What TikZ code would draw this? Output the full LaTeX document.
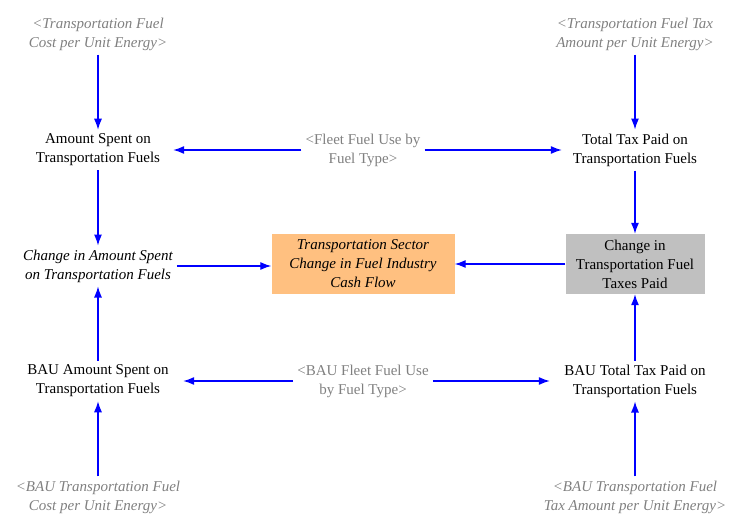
\documentclass[tikz,border=0pt]{standalone}
\usepackage{fontspec}
\setmainfont{Liberation Serif}
\usepackage{tikz}
\usetikzlibrary{arrows.meta,positioning}
\definecolor{link}{HTML}{0000FF}
\definecolor{shadow}{HTML}{808080}
\definecolor{cashbg}{HTML}{FFC080}
\definecolor{taxbg}{HTML}{C0C0C0}

\begin{document}
\begin{tikzpicture}[x=1pt,y=-1pt,on grid,
  var/.style={align=center,inner sep=4pt,font=\fontsize{15}{19}\selectfont},
  ghost/.style={var,text=shadow,font=\fontsize{15}{19}\selectfont\itshape},
  grey/.style={var,text=shadow},
  aux/.style={var,font=\fontsize{15}{19}\selectfont\itshape},
  flowbox/.style={minimum height=60pt,inner sep=0pt},
  arr/.style={-{Latex[length=11pt,width=8pt]},draw=link,line width=1.2pt}
]
\useasboundingbox (0,0) rectangle (753,530);
\node[ghost] (fuelcost) at (98,34) {<Transportation Fuel\\Cost per Unit Energy>};
\node[var,below=116pt of fuelcost,minimum width=150pt] (spent) {Amount Spent on\\Transportation Fuels};
\node[grey,right=265pt of spent] (fleet) {<Fleet Fuel Use by\\Fuel Type>};
\node[var,right=272pt of fleet,minimum width=146pt] (tax) {Total Tax Paid on\\Transportation Fuels};
\node[ghost,above=116pt of tax] (taxrate) {<Transportation Fuel Tax\\Amount per Unit Energy>};
\node[aux,below=116pt of spent] (dspent) {Change in Amount Spent\\on Transportation Fuels};
\node[aux,flowbox,fill=cashbg,minimum width=183pt,right=265pt of dspent,yshift=2pt] (cash) {Transportation Sector\\Change in Fuel Industry\\Cash Flow};
\node[var,flowbox,fill=taxbg,minimum width=139pt,right=272pt of cash] (dtax) {Change in\\Transportation Fuel\\Taxes Paid};
\node[var,below=115pt of dspent,minimum width=170pt] (bauspent) {BAU Amount Spent on\\Transportation Fuels};
\node[grey,right=265pt of bauspent] (baufleet) {<BAU Fleet Fuel Use\\by Fuel Type>};
\node[var,right=272pt of baufleet,minimum width=170pt] (bautax) {BAU Total Tax Paid on\\Transportation Fuels};
\node[ghost,below=116pt of bauspent] (baucost) {<BAU Transportation Fuel\\Cost per Unit Energy>};
\node[ghost,below=116pt of bautax] (baurate) {<BAU Transportation Fuel\\Tax Amount per Unit Energy>};
% links
\draw[arr] (fuelcost) -- (spent);
\draw[arr] (taxrate) -- (tax);
\draw[arr] (fleet) -- (spent);
\draw[arr] (fleet) -- (tax);
\draw[arr] (spent) -- (dspent);
\draw[arr] (tax) -- (dtax);
\draw[arr] (dspent) -- (dspent -| cash.west);
\draw[arr] (dtax) -- (cash);
\draw[arr] (bauspent) -- (dspent);
\draw[arr] (bautax) -- (dtax);
\draw[arr] (baufleet) -- (bauspent);
\draw[arr] (baufleet) -- (bautax);
\draw[arr] (baucost) -- (bauspent);
\draw[arr] (baurate) -- (bautax);
\end{tikzpicture}
\end{document}
